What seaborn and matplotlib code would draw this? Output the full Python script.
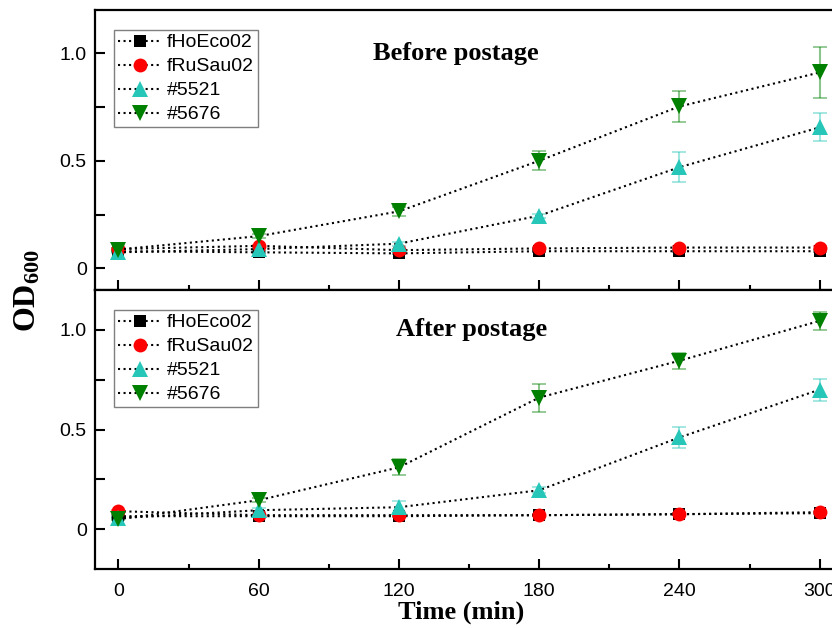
import matplotlib
matplotlib.use("Agg")
import matplotlib.pyplot as plt
import seaborn as sns
from matplotlib.ticker import MultipleLocator, FixedLocator, FixedFormatter

sns.set_style("ticks")
plt.rcParams['font.family'] = ['Liberation Sans', 'DejaVu Sans']
plt.rcParams['mathtext.fontset'] = 'custom'
plt.rcParams['mathtext.bf'] = 'Liberation Serif:bold'
plt.rcParams['mathtext.rm'] = 'Liberation Serif:bold'
plt.rcParams['text.color'] = 'black'
plt.rcParams['axes.labelcolor'] = 'black'
plt.rcParams['xtick.color'] = 'black'
plt.rcParams['ytick.color'] = 'black'

# time points (min)
time = [0, 60, 120, 180, 240, 300]
strains = ['fHoEco02', 'fRuSau02', '#5521', '#5676']

# before postage
before_hoeco = [0.080, 0.075, 0.070, 0.080, 0.080, 0.080]
before_rusau = [0.090, 0.105, 0.085, 0.093, 0.097, 0.097]
before_5521 = [0.075, 0.090, 0.115, 0.245, 0.470, 0.655]
before_5676 = [0.088, 0.150, 0.265, 0.500, 0.752, 0.910]
before_err_hoeco = [0.005, 0.005, 0.005, 0.005, 0.005, 0.005]
before_err_rusau = [0.005, 0.005, 0.005, 0.005, 0.005, 0.005]
before_err_5521 = [0.005, 0.010, 0.010, 0.010, 0.070, 0.065]
before_err_5676 = [0.005, 0.010, 0.020, 0.045, 0.070, 0.120]

# after postage
after_hoeco = [0.065, 0.065, 0.065, 0.070, 0.075, 0.080]
after_rusau = [0.090, 0.070, 0.070, 0.070, 0.075, 0.085]
after_5521 = [0.055, 0.095, 0.110, 0.195, 0.460, 0.700]
after_5676 = [0.050, 0.145, 0.310, 0.660, 0.845, 1.045]
after_err_hoeco = [0.005, 0.005, 0.005, 0.005, 0.005, 0.005]
after_err_rusau = [0.005, 0.005, 0.005, 0.005, 0.005, 0.005]
after_err_5521 = [0.005, 0.010, 0.030, 0.015, 0.055, 0.055]
after_err_5676 = [0.005, 0.010, 0.040, 0.070, 0.040, 0.045]

colors = ['#000000', '#ff0000', '#26c6b9', '#008000']
markers = ['s', 'o', '^', 'v']
sizes = [8.5, 10, 11.5, 11.5]

panels = [
    ("Before postage", [before_hoeco, before_rusau, before_5521, before_5676],
     [before_err_hoeco, before_err_rusau, before_err_5521, before_err_5676], (-0.1, 1.2), 144.5),
    ("After postage", [after_hoeco, after_rusau, after_5521, after_5676],
     [after_err_hoeco, after_err_rusau, after_err_5521, after_err_5676], (-0.2, 1.2), 151),
]

fig = plt.figure(figsize=(8.32, 6.28), dpi=100)
ax_top = fig.add_axes([95 / 832, 1 - 290 / 628, 748 / 832, 280 / 628])
ax_bot = fig.add_axes([95 / 832, 1 - 569 / 628, 748 / 832, 279 / 628])

for ax, (title, series, errs, ylim, tx) in zip([ax_top, ax_bot], panels):
    # error bars under the markers
    for vals, err, c in zip(series, errs, colors):
        ax.errorbar(time, vals, yerr=err, fmt='none', ecolor=c, alpha=0.45,
                    elinewidth=1.5, capsize=5, capthick=1.3, zorder=1)
    for vals, name, c, m, s in zip(series, strains, colors, markers, sizes):
        sns.lineplot(x=time, y=vals, ax=ax, color='black', linestyle=':', linewidth=1.5,
                     marker=m, markersize=s, markerfacecolor=c, markeredgecolor=c,
                     markeredgewidth=0, label=name, zorder=3)

    ax.set_xlim(-10, 310)
    ax.set_ylim(*ylim)
    ax.xaxis.set_major_locator(MultipleLocator(60))
    ax.xaxis.set_minor_locator(MultipleLocator(30))
    ax.yaxis.set_major_locator(FixedLocator([0, 0.5, 1.0]))
    ax.yaxis.set_major_formatter(FixedFormatter(['0', '0.5', '1.0']))
    ax.yaxis.set_minor_locator(FixedLocator([0.25, 0.75]))
    ax.tick_params(axis='x', which='major', direction='in', length=7, width=1.5, labelsize=14, pad=10)
    ax.tick_params(axis='x', which='minor', direction='in', length=3.5, width=1.5)
    ax.tick_params(axis='y', which='major', direction='in', length=7, width=1.5, labelsize=14, pad=6)
    ax.tick_params(axis='y', which='minor', direction='in', length=7, width=1.5)
    for sp in ax.spines.values():
        sp.set_linewidth(1.6)
        sp.set_color('black')

    ax.text(tx, 1.0, title, ha='center', va='center', fontsize=19,
            fontweight='bold', family='Liberation Serif', color='black')

    leg = ax.legend(loc='upper left', bbox_to_anchor=(0.026, 0.929), fontsize=14,
                    frameon=True, fancybox=False, framealpha=1, edgecolor='#7f7f7f',
                    handlelength=2.2, handletextpad=0.3, borderpad=0.2,
                    labelspacing=0.33, borderaxespad=0)
    leg.get_frame().set_linewidth(1.0)
    ax.set_ylabel('')
    ax.set_xlabel('')

ax_top.tick_params(axis='x', which='both', labelbottom=False)

ax_bot.set_xlabel('Time (min)', fontsize=19, fontweight='bold', family='Liberation Serif')
ax_bot.xaxis.set_label_coords((461 - 95) / 748, -0.155)
ax_bot.xaxis.label.set_va('center')

fig.text(28 / 832, 1 - 290 / 628, r'$\mathbf{OD_{600}}$', rotation=90, ha='center',
         va='center', fontsize=23)

plt.savefig("out.png", dpi=100)
